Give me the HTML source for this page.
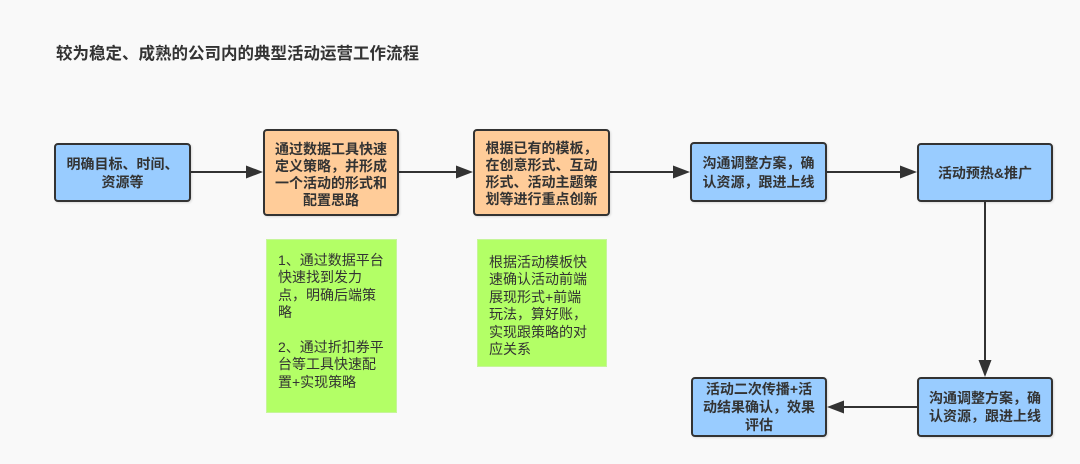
<!DOCTYPE html>
<html>
<head>
<meta charset="utf-8">
<style>
  html, body { margin:0; padding:0; }
  body { width:1080px; height:464px; background:#f9f9f9; position:relative; overflow:hidden;
         font-family:"Liberation Sans","Noto Sans CJK SC","WenQuanYi Zen Hei",sans-serif; color:#333; }
  .title { position:absolute; left:56px; top:43px; font-size:16.5px; font-weight:bold; line-height:22px; white-space:nowrap; color:#333; }
  .box { position:absolute; box-sizing:border-box; border:2px solid #333; border-radius:4px;
         display:flex; align-items:center; justify-content:center; text-align:center;
         font-size:14px; font-weight:bold; color:#333; box-shadow:1px 1px 2px rgba(0,0,0,0.12); }
  .blue { background:#99ccff; }
  .orange { background:#ffcc99; }
  .box .t { white-space:nowrap; }
  .note { position:absolute; box-sizing:border-box; background:#b3ff66; border:1px solid #c6f59a;
          font-size:14px; line-height:17.4px; color:#333; padding:12px 0 0 11px; white-space:nowrap; }
  svg { position:absolute; left:0; top:0; }
</style>
</head>
<body>
<div class="title">较为稳定、成熟的公司内的典型活动运营工作流程</div>

<svg width="1080" height="464" viewBox="0 0 1080 464">
  <g stroke="#333" stroke-width="2" fill="none">
    <line x1="191" y1="172" x2="248" y2="172"/>
    <line x1="399" y1="172" x2="458" y2="172"/>
    <line x1="610" y1="172" x2="675" y2="172"/>
    <line x1="827" y1="172" x2="902" y2="172"/>
    <line x1="985" y1="202" x2="985" y2="362"/>
    <line x1="917" y1="407" x2="842" y2="407"/>
  </g>
  <g fill="#333">
    <polygon points="263,172 246,165.5 246,178.5"/>
    <polygon points="473,172 456,165.5 456,178.5"/>
    <polygon points="690,172 673,165.5 673,178.5"/>
    <polygon points="917,172 900,165.5 900,178.5"/>
    <polygon points="985,377 978.5,360 991.5,360"/>
    <polygon points="827,407 844,400.5 844,413.5"/>
  </g>
</svg>

<div class="box blue" style="left:54px;top:143px;width:137px;height:59px;">
  <div class="t" style="line-height:18px;">明确目标、时间、<br>资源等</div>
</div>

<div class="box orange" style="left:263px;top:129px;width:136px;height:87px;">
  <div class="t" style="line-height:17px;padding-top:4px;">通过数据工具快速<br>定义策略，并形成<br>一个活动的形式和<br>配置思路</div>
</div>

<div class="box orange" style="left:473px;top:129px;width:137px;height:87px;">
  <div class="t" style="line-height:17px;padding-top:3px;">根据已有的模板，<br>在创意形式、互动<br>形式、活动主题策<br>划等进行重点创新</div>
</div>

<div class="box blue" style="left:690px;top:142px;width:137px;height:60px;">
  <div class="t" style="line-height:19px;padding-top:2px;">沟通调整方案，确<br>认资源，跟进上线</div>
</div>

<div class="box blue" style="left:917px;top:143px;width:136px;height:59px;">
  <div class="t" style="line-height:18px;">活动预热&amp;推广</div>
</div>

<div class="box blue" style="left:917px;top:377px;width:136px;height:60px;">
  <div class="t" style="line-height:18px;">沟通调整方案，确<br>认资源，跟进上线</div>
</div>

<div class="box blue" style="left:691px;top:377px;width:136px;height:60px;">
  <div class="t" style="line-height:18px;">活动二次传播+活<br>动结果确认，效果<br>评估</div>
</div>

<div class="note" style="left:266px;top:239px;width:131px;height:174px;">1、通过数据平台<br>快速找到发力<br>点，明确后端策<br>略<br><br>2、通过折扣券平<br>台等工具快速配<br>置+实现策略</div>

<div class="note" style="left:477px;top:239px;width:130px;height:128px;padding-left:11px;padding-top:14px;">根据活动模板快<br>速确认活动前端<br>展现形式+前端<br>玩法，算好账，<br>实现跟策略的对<br>应关系</div>

</body>
</html>
